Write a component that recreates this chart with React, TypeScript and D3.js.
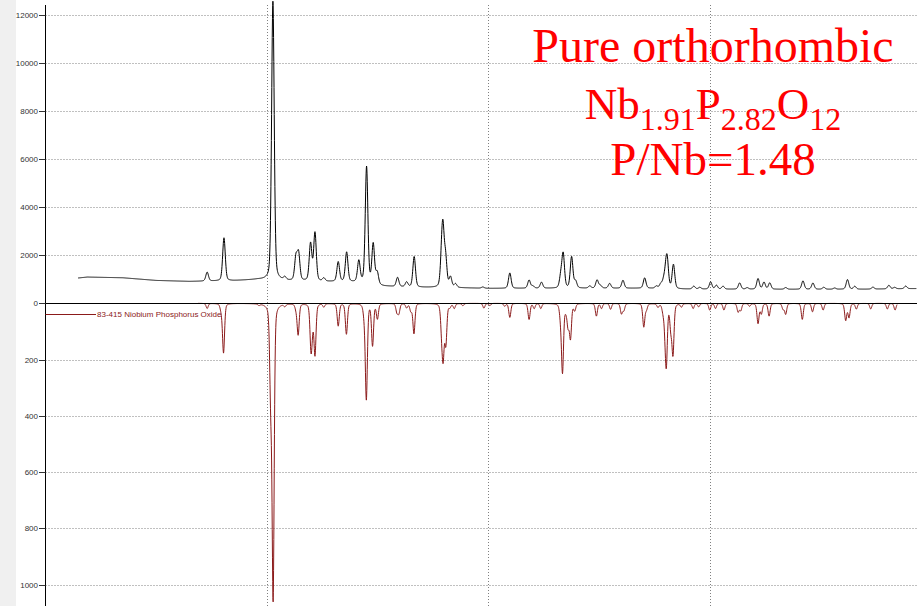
import React from 'react';
import * as d3 from 'd3';

const W = 922;
const H = 606;

// x axis (2-theta, degrees) – no tick labels are visible, only grid lines
const X_DOMAIN = [10, 49.37];
const X_GRID = [20, 30, 40];

// y axes
const TOP_TICKS = [0, 2000, 4000, 6000, 8000, 10000, 12000];
const BOTTOM_TICKS = [200, 400, 600, 800, 1000];

// Observed pattern: background knots
const OBS_BASE_T = [11.48, 11.9, 13.5, 15.0, 16.5, 18.5, 19.6, 21.0, 23.5, 24.2, 25.3, 26.5, 28.8, 30.0, 37.0, 38.8, 44.0, 47.0, 49.34];
const OBS_BASE_I = [1040, 1080, 1050, 940, 900, 930, 980, 920, 880, 850, 700, 660, 630, 611, 615, 580, 570, 575, 600];

// Observed peaks (position 2θ, height above background, counts)
const OBS_PEAK_POS = [17.31, 18.07, 20.28, 20.82, 21.32, 21.44, 21.98, 22.18, 22.58, 23.23, 23.61, 24.16, 24.51, 24.81, 24.99, 25.91, 26.32, 26.66, 27.9, 27.96, 28.08, 28.3, 28.53, 29.76, 30.98, 31.85, 32.02, 32.41, 33.28, 33.39, 33.77, 33.95, 34.59, 34.92, 35.07, 35.49, 36.09, 37.07, 37.6, 37.8, 37.93, 38.03, 38.09, 38.37, 39.29, 39.56, 40.05, 40.31, 40.61, 41.36, 41.7, 42.19, 42.46, 42.72, 43.44, 44.22, 44.67, 45.16, 45.65, 46.23, 46.56, 47.38, 48.1, 48.36, 48.86];
const OBS_PEAK_INT = [370, 1790, 11600, 120, 950, 1100, 1550, 2000, 130, 820, 1230, 880, 4850, 1650, 500, 380, 200, 1270, 900, 2100, 1150, 420, 150, 50, 640, 340, 90, 250, 450, 1400, 1300, 280, 90, 340, 110, 200, 330, 430, 90, 170, 300, 600, 1000, 1000, 120, 70, 300, 160, 120, 260, 60, 440, 290, 260, 70, 350, 260, 80, 50, 400, 120, 80, 150, 60, 110];

// Reference card 83-415 (position 2θ, intensity)
const REF_RANGE = [16.9, 48.47];
const REF_PEAK_POS = [17.31, 17.94, 18.05, 19.65, 20.18, 20.29, 20.82, 21.32, 21.42, 22.0, 22.06, 22.18, 22.58, 23.23, 23.6, 24.4, 24.5, 24.78, 25.0, 25.88, 25.97, 26.32, 26.51, 26.65, 27.9, 27.97, 28.09, 28.27, 28.47, 28.86, 29.81, 30.08, 30.75, 30.98, 31.85, 32.08, 32.38, 33.27, 33.36, 33.51, 33.61, 33.72, 33.91, 34.89, 35.12, 35.53, 36.02, 36.13, 37.03, 37.15, 37.67, 37.9, 37.99, 38.05, 38.25, 38.35, 38.73, 39.26, 39.51, 40.01, 40.27, 40.65, 41.29, 41.41, 41.81, 42.19, 42.34, 42.69, 43.32, 43.44, 44.19, 44.65, 45.13, 46.15, 46.3, 46.63, 47.28, 48.03, 48.38];
const REF_PEAK_INT = [18, 20, 175, 5, 300, 1030, 8, 15, 110, 150, 50, 180, 12, 80, 109, 30, 338, 148, 53, 30, 33, 15, 26, 107, 80, 175, 140, 12, 17, 8, 17, 8, 10, 50, 57, 18, 18, 40, 240, 18, 75, 120, 24, 45, 18, 21, 36, 24, 83, 20, 12, 24, 60, 200, 80, 175, 12, 18, 12, 24, 18, 24, 30, 25, 10, 71, 36, 45, 20, 38, 57, 30, 24, 60, 50, 20, 20, 20, 24];

const REF_LABEL = '83-415 Niobium Phosphorus Oxide';

function pv(t: number, p: number, fwhm: number, eta: number) {
  const hw = fwhm / 2;
  const u = ((t - p) / hw) ** 2;
  return eta / (1 + u) + (1 - eta) * Math.exp(-Math.LN2 * u);
}

function profile(
  t0: number,
  t1: number,
  base: (t: number) => number,
  pos: number[],
  ints: number[],
  fwhm: number,
  eta: number
): [number, number][] {
  const out: [number, number][] = [];
  const n = Math.round((t1 - t0) / 0.01);
  for (let i = 0; i <= n; i++) {
    const t = t0 + ((t1 - t0) * i) / n;
    let v = base(t);
    for (let k = 0; k < pos.length; k++) {
      if (Math.abs(t - pos[k]) < 2) v += ints[k] * pv(t, pos[k], fwhm, eta);
    }
    out.push([t, v]);
  }
  return out;
}

export default function App() {
  const x = d3.scaleLinear().domain(X_DOMAIN).range([45.3, 917]);
  const yTop = d3.scaleLinear().domain([0, 12000]).range([303, 14.6]);
  const yBot = d3.scaleLinear().domain([0, 1000]).range([303.3, 584.6]);

  const baseScale = d3.scaleLinear().domain(OBS_BASE_T).range(OBS_BASE_I);
  const obs = profile(OBS_BASE_T[0], OBS_BASE_T[OBS_BASE_T.length - 1], (t) => baseScale(t), OBS_PEAK_POS, OBS_PEAK_INT, 0.14, 0.3);
  const ref = profile(REF_RANGE[0], REF_RANGE[1], () => 0, REF_PEAK_POS, REF_PEAK_INT, 0.11, 0.3);

  const obsLine = d3.line<[number, number]>().x((d) => x(d[0])).y((d) => yTop(d[1]))(obs) || '';
  const refLine = d3.line<[number, number]>().x((d) => x(d[0])).y((d) => yBot(d[1]))(ref) || '';

  const axisX = 45.5;
  const right = 917;
  const gridColor = '#808080';
  const labelFont = "'Liberation Sans', Arial, sans-serif";
  const redFont = "'Liberation Serif', 'Times New Roman', serif";

  return (
    <svg width={W} height={H} style={{ position: 'absolute', left: 0, top: 0, background: '#fff' }}>
      <rect x={0} y={0} width={16} height={H} fill="#f0f0f0" />

      {/* horizontal grid, top */}
      {TOP_TICKS.filter((v) => v > 0).map((v) => (
        <line key={'gt' + v} x1={axisX} x2={right} y1={Math.round(yTop(v)) + 0.5} y2={Math.round(yTop(v)) + 0.5} stroke={gridColor} strokeDasharray="1,2" />
      ))}
      {BOTTOM_TICKS.map((v) => (
        <line key={'gb' + v} x1={axisX} x2={right} y1={Math.round(yBot(v)) + 0.5} y2={Math.round(yBot(v)) + 0.5} stroke={gridColor} strokeDasharray="1,2" />
      ))}
      {/* vertical grid */}
      {X_GRID.map((v) => (
        <line key={'gx' + v} x1={Math.round(x(v)) + 0.5} x2={Math.round(x(v)) + 0.5} y1={5} y2={H} stroke={gridColor} strokeDasharray="1,2" />
      ))}

      {/* reference pattern */}
      <path d={refLine} fill="none" stroke="#8b1a1a" strokeWidth={1} />
      {/* observed pattern */}
      <path d={obsLine} fill="none" stroke="#000" strokeWidth={1} />

      {/* zero line */}
      <line x1={axisX} x2={right} y1={303.5} y2={303.5} stroke="#000" strokeWidth={1} />
      {/* y axis */}
      <line x1={axisX} x2={axisX} y1={5} y2={H} stroke="#000" strokeWidth={1} />

      {/* ticks and labels */}
      {TOP_TICKS.map((v) => (
        <g key={'tt' + v}>
          <line x1={39} x2={axisX} y1={Math.round(yTop(v)) + 0.5} y2={Math.round(yTop(v)) + 0.5} stroke="#333" />
          <text x={38} y={yTop(v) + 3} textAnchor="end" fontSize={8} fontFamily={labelFont} fill="#333">{v}</text>
        </g>
      ))}
      {BOTTOM_TICKS.map((v) => (
        <g key={'tb' + v}>
          <line x1={39} x2={axisX} y1={Math.round(yBot(v)) + 0.5} y2={Math.round(yBot(v)) + 0.5} stroke="#333" />
          <text x={38} y={yBot(v) + 3} textAnchor="end" fontSize={8} fontFamily={labelFont} fill="#333">{v}</text>
        </g>
      ))}

      {/* reference legend */}
      <line x1={axisX} x2={96} y1={314.5} y2={314.5} stroke="#8b1a1a" strokeWidth={1} />
      <text x={97} y={317.3} fontSize={8} fontFamily={labelFont} fill="#8b1a1a">{REF_LABEL}</text>

      {/* annotation */}
      <text x={713} y={62} textAnchor="middle" fontSize={48} fontFamily={redFont} fill="#ff0000">Pure orthorhombic</text>
      <text x={713} y={119} textAnchor="middle" fontSize={45} fontFamily={redFont} fill="#ff0000">
        <tspan>Nb</tspan>
        <tspan fontSize={32} dy={11}>1.91</tspan>
        <tspan dy={-11}>P</tspan>
        <tspan fontSize={32} dy={11}>2.82</tspan>
        <tspan dy={-11}>O</tspan>
        <tspan fontSize={32} dy={11}>12</tspan>
      </text>
      <text x={713} y={175} textAnchor="middle" fontSize={47} fontFamily={redFont} fill="#ff0000">P/Nb=1.48</text>
    </svg>
  );
}
